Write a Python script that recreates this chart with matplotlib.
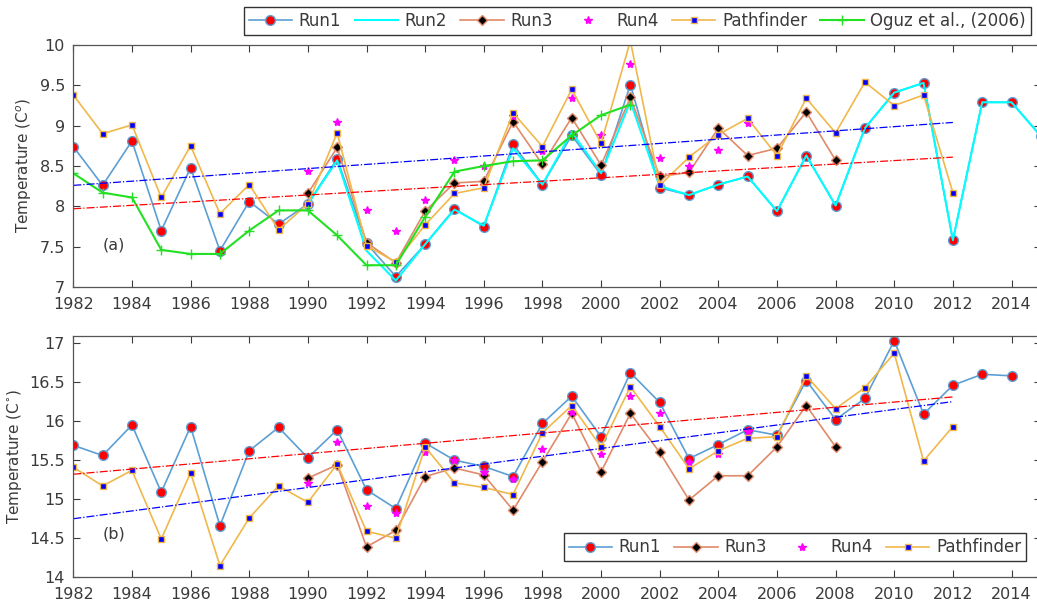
import numpy as np
import matplotlib
matplotlib.use('Agg')
import matplotlib.pyplot as plt

# ---- data ----
yr_run1_a = np.arange(1982, 2016)
run1_a = [8.74, 8.26, 8.81, 7.70, 8.48, 7.45, 8.06, 7.78, 8.03, 8.59,
          7.54, 7.13, 7.53, 7.97, 7.75, 8.77, 8.27, 8.88, 8.39, 9.51,
          8.23, 8.14, 8.27, 8.37, 7.94, 8.63, 8.01, 8.97, 9.41, 9.53,
          7.58, 9.29, 9.29, 8.87]
yr_run2_a = np.arange(1990, 2016)
run2_a = [8.03, 8.57, 7.45, 7.08, 7.53, 7.96, 7.76, 8.72, 8.27, 8.92,
          8.41, 9.30, 8.25, 8.14, 8.27, 8.37, 7.94, 8.63, 8.01, 8.97,
          9.41, 9.53, 7.58, 9.29, 9.29, 8.87]
yr_run3_a = np.arange(1990, 2009)
run3_a = [8.16, 8.73, 7.55, 7.30, 7.94, 8.29, 8.31, 9.05, 8.52, 9.10,
          8.51, 9.35, 8.37, 8.42, 8.97, 8.63, 8.72, 9.17, 8.57]
yr_run4_a = np.arange(1990, 2006)
run4_a = [8.44, 9.05, 7.95, 7.70, 8.08, 8.57, 8.50, 9.12, 8.68, 9.34,
          8.88, 9.77, 8.60, 8.50, 8.70, 9.03]
yr_path_a = np.arange(1982, 2013)
path_a = [9.38, 8.90, 9.01, 8.11, 8.75, 7.91, 8.27, 7.71, 8.03, 8.91,
          7.51, 7.31, 7.77, 8.16, 8.23, 9.16, 8.74, 9.45, 8.78, 10.05,
          8.26, 8.61, 8.89, 9.09, 8.63, 9.34, 8.91, 9.54, 9.25, 9.38,
          8.17]
yr_oguz = np.arange(1982, 2002)
oguz = [8.41, 8.17, 8.11, 7.46, 7.41, 7.41, 7.70, 7.95, 7.95, 7.64,
        7.27, 7.27, 7.87, 8.43, 8.50, 8.56, 8.57, 8.88, 9.13, 9.26]
trend_yrs = [1982, 2012]
trend_blue_a = [8.26, 9.04]
trend_red_a = [7.97, 8.61]

yr_run1_b = np.arange(1982, 2015)
run1_b = [15.69, 15.56, 15.95, 15.09, 15.93, 14.66, 15.62, 15.92, 15.53, 15.89,
          15.12, 14.88, 15.72, 15.50, 15.42, 15.29, 15.97, 16.32, 15.80, 16.62,
          16.24, 15.52, 15.70, 15.89, 15.82, 16.52, 16.02, 16.29, 17.03, 16.09,
          16.46, 16.60, 16.58]
yr_run3_b = np.arange(1990, 2009)
run3_b = [15.27, 15.44, 14.39, 14.60, 15.29, 15.40, 15.31, 14.86, 15.48, 16.10,
          15.35, 16.10, 15.60, 14.99, 15.30, 15.30, 15.67, 16.20, 15.67]
yr_run4_b = np.arange(1990, 2006)
run4_b = [15.21, 15.73, 14.91, 14.82, 15.61, 15.50, 15.35, 15.26, 15.64, 16.12,
          15.58, 16.32, 16.11, 15.48, 15.58, 15.87]
yr_path_b = np.arange(1982, 2013)
path_b = [15.41, 15.17, 15.37, 14.49, 15.34, 14.15, 14.76, 15.17, 14.96, 15.45,
          14.59, 14.50, 15.67, 15.21, 15.15, 15.06, 15.85, 16.20, 15.67, 16.44,
          15.93, 15.39, 15.62, 15.78, 15.80, 16.58, 16.16, 16.43, 16.87, 15.49,
          15.93]
trend_blue_b = [14.75, 16.25]
trend_red_b = [15.32, 16.31]

xticks = np.arange(1982, 2015, 2)

c_run1 = '#5b9fd4'
c_run3 = '#e08a6a'
c_path = '#f0b84a'
c_txt = '#3a3a3a'

plt.rcParams['font.family'] = 'DejaVu Sans'
plt.rcParams['font.size'] = 11

fig = plt.figure(figsize=(10.37, 6.05), dpi=100)
ax1 = fig.add_axes([0.0707, 0.5256, 0.9330, 0.4000])
ax2 = fig.add_axes([0.0707, 0.0458, 0.9330, 0.3988])

leg_kw = dict(fontsize=12, frameon=True, fancybox=False, edgecolor='#333333',
              framealpha=1, handlelength=2.6, columnspacing=0.8,
              handletextpad=0.4, borderpad=0.3, borderaxespad=0.3,
              labelcolor=c_txt)


def style(ax, ylim, yt):
    ax.set_xlim(1982, 2015)
    ax.set_ylim(*ylim)
    ax.set_xticks(xticks)
    ax.set_yticks(yt)
    ax.set_yticklabels(['%g' % v for v in yt])
    ax.tick_params(direction='in', top=True, right=True, length=5,
                   colors=c_txt, labelsize=11.5)
    ax.tick_params(axis='x', pad=7)
    ax.tick_params(axis='y', pad=6)
    for s in ax.spines.values():
        s.set_color('#555555')
        s.set_linewidth(0.9)


# ---- panel (a) ----
ax1.plot(yr_run1_a, run1_a, '-o', color=c_run1, mfc='red', mec=c_run1,
         ms=7, lw=1.2, label='Run1')
ax1.plot(yr_run2_a, run2_a, '-', color='cyan', lw=1.5, label='Run2')
ax1.plot(yr_run3_a, run3_a, '-D', color=c_run3, mfc='black', mec=c_run3,
         ms=5, lw=1.2, label='Run3')
ax1.plot(yr_run4_a, run4_a, '*', color='magenta', ms=6, ls='none', label='Run4')
ax1.plot(yr_path_a, path_a, '-s', color=c_path, mfc='blue', mec=c_path,
         ms=5, lw=1.2, label='Pathfinder')
ax1.plot(yr_oguz, oguz, '-+', color='#22e022', ms=7, lw=1.5,
         label='Oguz et al., (2006)')
ax1.plot(trend_yrs, trend_blue_a, '-.', color='blue', lw=0.9)
ax1.plot(trend_yrs, trend_red_a, '-.', color='red', lw=0.9)
style(ax1, (7, 10), np.arange(7, 10.01, 0.5))
ax1.set_ylabel('Temperature (C$^o$)', color=c_txt, fontsize=11, labelpad=4)
ax1.text(1983.0, 7.52, '(a)', color=c_txt, fontsize=11.5, va='center')

fig.legend(*ax1.get_legend_handles_labels(), loc='upper right',
           bbox_to_anchor=(0.999, 0.997), ncol=6, **leg_kw)

# ---- panel (b) ----
ax2.plot(yr_run1_b, run1_b, '-o', color=c_run1, mfc='red', mec=c_run1,
         ms=7, lw=1.2, label='Run1')
ax2.plot(yr_run3_b, run3_b, '-D', color=c_run3, mfc='black', mec=c_run3,
         ms=5, lw=1.2, label='Run3')
ax2.plot(yr_run4_b, run4_b, '*', color='magenta', ms=6, ls='none', label='Run4')
ax2.plot(yr_path_b, path_b, '-s', color=c_path, mfc='blue', mec=c_path,
         ms=5, lw=1.2, label='Pathfinder')
ax2.plot(trend_yrs, trend_blue_b, '-.', color='blue', lw=0.9)
ax2.plot(trend_yrs, trend_red_b, '-.', color='red', lw=0.9)
style(ax2, (14, 17.09), np.arange(14, 17.01, 0.5))
ax2.set_ylabel('Temperature (C$^{\\circ}$)', color=c_txt, fontsize=11, labelpad=4)
ax2.text(1983.0, 14.55, '(b)', color=c_txt, fontsize=11.5, va='center')
ax2.legend(loc='lower right', bbox_to_anchor=(0.99, 0.045), ncol=4, **leg_kw)

fig.savefig('out.png', dpi=100)
